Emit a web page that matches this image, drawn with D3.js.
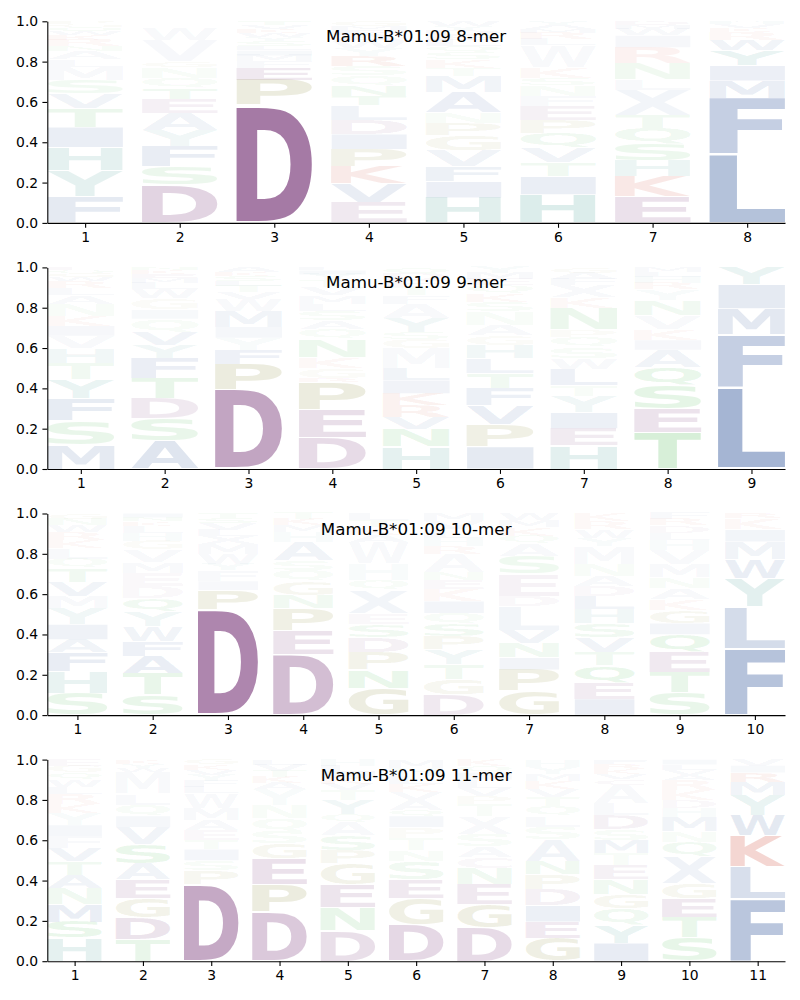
<!DOCTYPE html>
<html>
<head>
<meta charset="utf-8">
<script src="https://cdn.jsdelivr.net/npm/d3@7"></script>
<style>
  body { margin: 0; background: #fff; }
  svg text { font-family: "DejaVu Sans", sans-serif; }
</style>
</head>
<body>
<svg id="chart" width="800" height="1000"></svg>
<script>
'use strict';

// each position: [letter, frequency, opacity?] listed bottom -> top
const titles = ["Mamu-B*01:09 8-mer", "Mamu-B*01:09 9-mer", "Mamu-B*01:09 10-mer", "Mamu-B*01:09 11-mer"];
const yTicks = [0, 0.2, 0.4, 0.6, 0.8, 1.0];

const mer8 = [
    [["F",.13,.12],["Y",.13,.12],["H",.115,.12],["I",.10],["T",.095],["V",.07],["S",.07],["M",.065],["L",.035],["A",.04],["N",.025],["R",.03],["K",.025],["W",.02],["Q",.02],["G",.015],["P",.015]],
    [["D",.19,.2],["S",.09,.09],["F",.10,.1],["Y",.08,.08],["A",.085,.08],["E",.07,.07],["T",.055,.06],["Q",.05,.05],["N",.05,.05],["G",.03,.04],["V",.105,.04],["W",.06,.03],["M",.035,.02]],
    [["D",.585,.62],["P",.125,.15],["E",.06,.1],["F",.03],["M",.03],["I",.025],["L",.02],["S",.025],["Y",.02],["W",.02],["K",.02],["V",.02],["T",.02]],
    [["E",.10,.1],["V",.095,.1],["K",.085,.1],["P",.085,.1],["I",.075,.08],["D",.07,.08],["L",.075,.07],["T",.045,.06],["N",.05,.06],["Q",.05,.05],["S",.045,.05],["R",.05,.06],["Y",.04],["W",.035],["A",.03],["F",.025],["M",.02],["G",.025]],
    [["H",.125,.14],["I",.08],["F",.075],["V",.08],["G",.075],["P",.06],["N",.055],["A",.10],["M",.08],["T",.04],["K",.04],["S",.035],["Q",.03],["L",.03],["E",.025],["D",.025],["Y",.02],["W",.025]],
    [["H",.14,.16],["I",.09],["T",.07],["V",.075],["Q",.07],["P",.065],["E",.07],["F",.05],["N",.055],["S",.035],["K",.05],["W",.11,.05],["L",.03],["R",.03],["M",.02],["A",.02],["Y",.02]],
    [["E",.13,.14],["K",.10,.11],["H",.08],["S",.08],["Q",.08],["T",.065],["X",.125,.06],["L",.05],["N",.08],["R",.08],["I",.06],["W",.03],["M",.02],["D",.02]],
    [["L",.34,.35],["F",.28,.27],["M",.085,.1],["I",.075,.09],["Y",.075,.1],["W",.05,.07],["R",.04,.05],["K",.02],["V",.02],["H",.01],["A",.005]]
];

const mer9 = [
    [["M",.12,.12],["S",.12,.1],["F",.11,.11],["Y",.095],["T",.08],["H",.075],["V",.06],["I",.05],["K",.05],["N",.06],["A",.04],["L",.035],["R",.035],["W",.02],["G",.02],["Q",.015],["E",.015]],
    [["A",.14,.15],["S",.11,.1],["D",.10,.1],["T",.10],["F",.10],["Y",.065],["V",.065],["Q",.065],["I",.045],["G",.055],["W",.045],["L",.03],["M",.025],["E",.02],["K",.02],["N",.015]],
    [["D",.395,.42],["P",.125,.15],["F",.07,.08],["Y",.06],["I",.055],["M",.08],["W",.06],["V",.03],["T",.03],["L",.025],["S",.025],["K",.02],["A",.025]],
    [["D",.155,.17],["E",.14,.15],["P",.135,.15],["R",.02],["G",.05],["K",.055],["N",.09],["Q",.05],["A",.04],["S",.05],["L",.035],["M",.04],["V",.04],["T",.035],["Y",.03],["I",.02],["F",.015]],
    [["H",.11,.12],["N",.085],["V",.06],["R",.06],["K",.06],["I",.065],["L",.06],["M",.10,.05],["G",.045],["S",.035],["Y",.07],["A",.07],["F",.04],["T",.04],["E",.035],["D",.03],["Q",.035]],
    [["I",.11,.12],["P",.11,.12],["V",.095],["F",.085],["T",.075],["L",.075],["H",.065],["G",.05],["A",.05],["N",.065],["S",.05],["K",.04],["Q",.04],["E",.03],["M",.03],["Y",.03]],
    [["H",.115,.13],["E",.085],["I",.08],["Y",.08],["T",.055],["L",.08],["W",.055],["S",.055],["Q",.05],["P",.035],["N",.11],["K",.05],["X",.06],["F",.03],["A",.03],["G",.03]],
    [["T",.18,.19],["E",.12,.13],["S",.115,.12],["Q",.09,.1],["A",.085],["I",.05],["K",.055],["V",.065],["N",.075],["Y",.055],["R",.03],["H",.03],["L",.025],["M",.025]],
    [["L",.40,.42],["F",.265,.27],["M",.13,.13],["I",.12,.12],["Y",.085,.09]]
];

const mer10 = [
    [["S",.11,.1],["H",.105,.1],["F",.095],["A",.065],["I",.075],["Y",.08],["M",.06],["V",.07],["T",.07],["Q",.045],["L",.055],["K",.04],["R",.04],["W",.03],["N",.03],["G",.03]],
    [["S",.10,.1],["T",.105,.1],["A",.085],["F",.075],["W",.075],["Y",.075],["Q",.065],["D",.06],["E",.065],["M",.055],["V",.06],["G",.045],["H",.04],["L",.035],["K",.02],["N",.02],["I",.02]],
    [["D",.525,.56],["P",.095,.12],["I",.045],["F",.055],["Y",.03],["W",.05],["M",.05],["X",.04],["L",.03],["V",.03],["S",.025],["T",.025]],
    [["D",.30,.3],["E",.12,.13],["P",.11,.12],["N",.065],["G",.07],["Q",.055],["S",.05],["A",.09],["H",.05],["M",.03],["K",.03],["T",.03]],
    [["G",.135,.14],["N",.09],["P",.085],["D",.075],["S",.065],["E",.055],["X",.115,.06],["Q",.05],["H",.08,.04],["W",.11,.04],["A",.035],["K",.035],["T",.035],["L",.035]],
    [["D",.10,.1],["G",.075],["T",.075],["Y",.075],["P",.065],["S",.06],["Q",.055],["I",.06],["K",.06],["E",.045],["N",.04],["A",.09,.05],["R",.04],["H",.04],["L",.04],["V",.04],["M",.04]],
    [["G",.12,.13],["P",.105,.12],["I",.06],["N",.07],["V",.065],["L",.12,.06],["D",.05],["E",.11,.06],["S",.09],["A",.06],["Q",.04],["K",.04],["M",.035],["W",.035]],
    [["I",.08],["E",.08],["Q",.085],["T",.065],["V",.075],["S",.07],["H",.07],["L",.065],["D",.05],["A",.05],["N",.06],["M",.09,.05],["Y",.04],["W",.04],["R",.04],["K",.04]],
    [["S",.11,.1],["T",.10,.1],["E",.10,.1],["Q",.09],["I",.055],["G",.065],["K",.055],["A",.055],["N",.055],["M",.065],["V",.07],["H",.05],["L",.035],["D",.035],["R",.03],["F",.03]],
    [["F",.33,.34],["L",.21,.2],["Y",.14,.13],["W",.095,.09],["M",.085,.08],["I",.06,.06],["K",.055,.05],["R",.025]]
];

const mer11 = [
    [["H",.115,.12],["S",.08],["M",.085],["N",.08],["A",.065],["T",.07],["V",.065],["F",.06],["I",.055],["Y",.06],["K",.045],["R",.05],["L",.035],["W",.035],["Q",.035],["G",.035],["E",.03]],
    [["T",.11,.1],["D",.105,.12],["G",.095,.1],["E",.095,.1],["A",.08],["S",.095],["V",.085],["I",.055],["Q",.055],["L",.055],["M",.11,.04],["W",.02],["Y",.02],["K",.02]],
    [["D",.38,.4],["P",.07,.08],["S",.05],["I",.055],["T",.045],["E",.05],["A",.05],["M",.06],["W",.075,.04],["L",.03],["F",.03],["Y",.03],["V",.025],["K",.025],["G",.025]],
    [["D",.245,.25],["P",.135,.15],["E",.13,.14],["G",.075],["S",.06],["Q",.065],["N",.065],["Y",.08,.04],["A",.03],["K",.03],["T",.03],["V",.03],["L",.025]],
    [["D",.15,.15],["N",.115,.1],["E",.115,.12],["G",.105,.1],["P",.065],["S",.075],["A",.065],["Q",.04],["Y",.07],["T",.05],["V",.03],["K",.03],["I",.03],["L",.03],["H",.03]],
    [["D",.18,.18],["G",.13,.12],["E",.095,.1],["S",.09],["N",.055],["T",.06],["P",.055],["I",.055],["Q",.03],["A",.05],["V",.04],["K",.04],["L",.04],["H",.04],["M",.04]],
    [["D",.165,.17],["G",.115,.12],["E",.10,.1],["N",.08],["C",.055],["A",.055],["S",.06],["X",.09,.05],["T",.06],["P",.04],["V",.04],["L",.04],["I",.035],["Q",.035],["K",.03]],
    [["G",.115,.12],["E",.08],["I",.08],["D",.08],["P",.075],["N",.065],["A",.11,.06],["S",.06],["L",.055],["Q",.05],["T",.045],["V",.04],["K",.04],["M",.035],["Y",.035],["H",.035]],
    [["I",.09],["Y",.09],["Q",.08],["G",.07],["N",.075],["E",.07],["T",.06],["M",.065],["S",.055],["D",.07],["L",.06],["A",.09,.04],["C",.03],["V",.025],["K",.025],["R",.025],["F",.02]],
    [["S",.115,.11],["T",.10,.1],["E",.095,.1],["G",.075],["X",.135,.07],["Q",.07],["N",.055],["M",.07],["H",.045],["D",.04],["K",.05],["R",.05],["A",.025],["V",.025],["L",.025],["I",.025]],
    [["F",.31,.32],["L",.16,.18],["K",.155,.2],["W",.10,.12],["Y",.10,.11],["M",.065,.08],["R",.045,.06],["I",.035],["V",.03]]
];

const panels = [mer8, mer9, mer10, mer11];

// amino acid colour groups
const aaColor = {
    A: "#284f96", V: "#284f96", L: "#284f96", I: "#284f96", M: "#284f96", F: "#284f96", W: "#284f96", X: "#284f96",
    H: "#288c82", Y: "#288c82",
    S: "#28aa32", T: "#28aa32", N: "#28aa32", Q: "#28aa32",
    P: "#828228", G: "#828228",
    D: "#6e286e", E: "#6e286e", C: "#6e286e",
    K: "#c8321e", R: "#c8321e"
};

// ink bounds of each glyph, so a letter can be stretched to fill its box
const glyphFont = "bold 200px 'DejaVu Sans'";
const ctx = document.createElement("canvas").getContext("2d");
ctx.font = glyphFont;
const glyphBox = {};
function measure(ch) {
    if (!glyphBox[ch]) {
        const m = ctx.measureText(ch);
        glyphBox[ch] = {
            left: m.actualBoundingBoxLeft, right: m.actualBoundingBoxRight,
            ascent: m.actualBoundingBoxAscent, descent: m.actualBoundingBoxDescent
        };
    }
    return glyphBox[ch];
}

const svg = d3.select("#chart");
const left = 47.3, right = 785, panelH = 201.6, step = 246.1, firstTop = 21.3;

panels.forEach(function (cols, p) {
    const top = firstTop + p * step;
    const n = cols.length;
    const x = d3.scaleLinear().domain([0.6, n + 0.4]).range([left, right]);
    const y = d3.scaleLinear().domain([0, 1]).range([top + panelH, top]);
    const g = svg.append("g");

    cols.forEach(function (col, i) {
        const pos = i + 1;
        let floor = 0;
        col.forEach(function (d) {
            const ch = d[0], h = d[1];
            const mid = floor + h / 2;
            let a = d.length > 2 ? d[2] : Math.max(0.035, h * (1.2 - 0.5 * mid));
            a = Math.max(0.02, Math.min(1, a));
            const pad = 0.02 * h;
            const x0 = x(pos - 0.4), x1 = x(pos + 0.4);
            const yTop = y(floor + h - pad), yBot = y(floor + pad);
            const b = measure(ch);
            const sx = (x1 - x0) / (b.left + b.right);
            const sy = (yBot - yTop) / (b.ascent + b.descent);
            g.append("text")
                .attr("transform", "translate(" + x0 + "," + yTop + ") scale(" + sx + "," + sy + ") translate(" + b.left + "," + b.ascent + ")")
                .style("font", glyphFont)
                .attr("fill", aaColor[ch])
                .attr("fill-opacity", a)
                .text(ch);
            floor += h;
        });
    });

    const xAxis = d3.axisBottom(x)
        .tickValues(d3.range(1, n + 1))
        .tickFormat(d3.format("d"))
        .tickSize(4.9).tickSizeOuter(0).tickPadding(4.2);
    const yAxis = d3.axisLeft(y)
        .tickValues(yTicks)
        .tickFormat(d3.format(".1f"))
        .tickSize(4.9).tickSizeOuter(0).tickPadding(4.2);

    const gx = svg.append("g").attr("transform", "translate(0," + (top + panelH) + ")").call(xAxis);
    const gy = svg.append("g").attr("transform", "translate(" + left + ",0)").call(yAxis);
    [gx, gy].forEach(function (ax) {
        ax.selectAll("path, line").attr("stroke", "#000").attr("stroke-width", 1.1);
        ax.selectAll("text").attr("fill", "#000").style("font-size", "13.9px").style("font-family", "'DejaVu Sans'");
    });

    svg.append("text")
        .attr("x", (left + right) / 2)
        .attr("y", top + 21)
        .attr("text-anchor", "middle")
        .style("font-size", "16.7px")
        .attr("fill", "#000")
        .text(titles[p]);
});
</script>
</body>
</html>
